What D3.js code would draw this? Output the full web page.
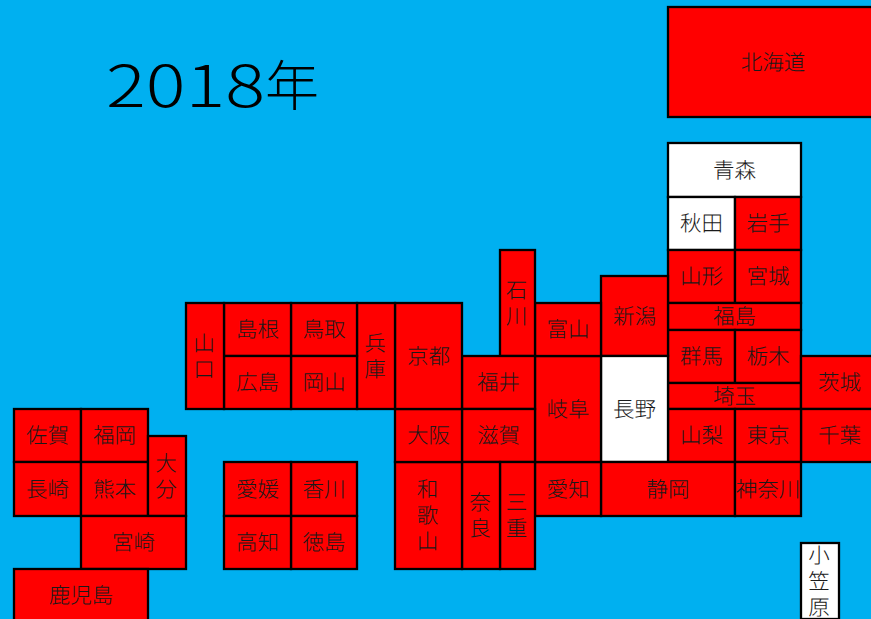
<!DOCTYPE html>
<html lang="ja">
<head>
<meta charset="utf-8">
<script src="https://cdnjs.cloudflare.com/ajax/libs/d3/7.8.5/d3.min.js"></script>
<style>
  html, body { margin: 0; padding: 0; background: #00b0f0; overflow: hidden; }
  svg { display: block; }
  .tile-label { font-family: "Noto Sans CJK JP", sans-serif; font-weight: 300; font-size: 21.5px; fill: #1a1a1a; text-rendering: geometricPrecision; }
  .title { font-family: "Noto Sans CJK JP", sans-serif; font-weight: 300; fill: #000; }
</style>
</head>
<body>
<div id="map"></div>
<script>
const width = 871;
const height = 619;

const year = "2018";
const yearSuffix = "年";

// prefecture, then its span on the tile grid: first column, last column, first row, last row
const prefectures = [
  ["北海道", 12, 16, 0, 1],
  ["青森", 12, 14, 2, 3],
  ["秋田", 12, 13, 3, 4],
  ["岩手", 13, 14, 3, 4],
  ["山形", 12, 13, 4, 6],
  ["宮城", 13, 14, 4, 6],
  ["福島", 12, 14, 6, 7],
  ["群馬", 12, 13, 7, 9],
  ["栃木", 13, 14, 7, 9],
  ["埼玉", 12, 14, 9, 10],
  ["茨城", 14, 16, 8, 10],
  ["千葉", 14, 16, 10, 12],
  ["山梨", 12, 13, 10, 12],
  ["東京", 13, 14, 10, 12],
  ["新潟", 11, 12, 5, 8],
  ["長野", 11, 12, 8, 12],
  ["静岡", 11, 13, 12, 13],
  ["神奈川", 13, 14, 12, 13],
  ["愛知", 10, 11, 12, 13],
  ["岐阜", 10, 11, 8, 12],
  ["富山", 10, 11, 6, 8],
  ["石川", 9, 10, 4, 8],
  ["福井", 8, 10, 8, 10],
  ["滋賀", 8, 10, 10, 12],
  ["三重", 9, 10, 12, 15],
  ["奈良", 8, 9, 12, 15],
  ["和歌山", 7, 8, 12, 15],
  ["大阪", 7, 8, 10, 12],
  ["京都", 7, 8, 6, 10],
  ["兵庫", 6, 7, 6, 10],
  ["鳥取", 5, 6, 6, 8],
  ["岡山", 5, 6, 8, 10],
  ["島根", 4, 5, 6, 8],
  ["広島", 4, 5, 8, 10],
  ["山口", 3, 4, 6, 10],
  ["香川", 5, 6, 12, 13],
  ["徳島", 5, 6, 13, 15],
  ["愛媛", 4, 5, 12, 13],
  ["高知", 4, 5, 13, 15],
  ["佐賀", 0, 1, 10, 12],
  ["福岡", 1, 2, 10, 12],
  ["長崎", 0, 1, 12, 13],
  ["熊本", 1, 2, 12, 13],
  ["大分", 2, 3, 11, 13],
  ["宮崎", 1, 3, 13, 15],
  ["鹿児島", 0, 2, 15, 17],
  ["小笠原", 14, 15, 14, 16]
];

// the white ones, all the rest are red
const whitePrefectures = ["青森", "秋田", "長野", "小笠原"];

// labels written one character per line
const stackedLabels = ["石川", "三重", "奈良", "和歌山", "兵庫", "山口", "大分", "小笠原"];

const colEdges = [14, 81, 148, 186, 224, 291, 357, 395, 462, 500, 535, 601, 668, 735, 801, 839, 878];
const rowEdges = [7, 117, 143, 197, 250, 276, 303, 330, 356, 383, 409, 436, 462, 516, 543, 569, 619, 621];

const xScale = d3.scaleLinear().domain(d3.range(colEdges.length)).range(colEdges);
const yScale = d3.scaleLinear().domain(d3.range(rowEdges.length)).range(rowEdges);

const colourScale = d3
  .scaleOrdinal()
  .domain(["white", "other"])
  .range(["#ffffff", "#ff0000"]);

const svg = d3
  .select("#map")
  .append("svg")
  .attr("width", width)
  .attr("height", height);

svg
  .append("rect")
  .attr("width", width)
  .attr("height", height)
  .attr("fill", "#00b0f0");

const title = svg
  .append("text")
  .attr("class", "title")
  .attr("x", 106)
  .attr("y", 107);

title
  .append("tspan")
  .attr("font-size", 58)
  .attr("textLength", 159)
  .attr("lengthAdjust", "spacingAndGlyphs")
  .text(year);

title
  .append("tspan")
  .attr("font-size", 54)
  .attr("dy", -1)
  .text(yearSuffix);

const tiles = svg
  .selectAll(".tile")
  .data(prefectures)
  .enter()
  .append("g")
  .attr("class", "tile");

tiles
  .append("rect")
  .attr("x", d => xScale(d[1]))
  .attr("y", d => yScale(d[3]))
  .attr("width", d => xScale(d[2]) - xScale(d[1]))
  .attr("height", d => yScale(d[4]) - yScale(d[3]))
  .style("fill", d => colourScale(whitePrefectures.includes(d[0]) ? "white" : "other"))
  .style("stroke", "#000")
  .style("stroke-width", 2.3);

const lineHeight = 26;

tiles.each(function(d) {
  const stacked = stackedLabels.includes(d[0]);
  const cx = (xScale(d[1]) + xScale(d[2])) / 2 - (stacked ? 1 : 0);
  const cy = (yScale(d[3]) + yScale(d[4])) / 2;
  const lines = stacked ? d[0].split("") : [d[0]];
  const label = d3
    .select(this)
    .append("text")
    .attr("class", "tile-label")
    .attr("text-anchor", "middle");

  lines.forEach((t, i) => {
    label
      .append("tspan")
      .attr("x", cx)
      .attr("y", cy + (i - (lines.length - 1) / 2) * lineHeight)
      .attr("dy", "0.35em")
      .text(t);
  });
});
</script>
</body>
</html>
